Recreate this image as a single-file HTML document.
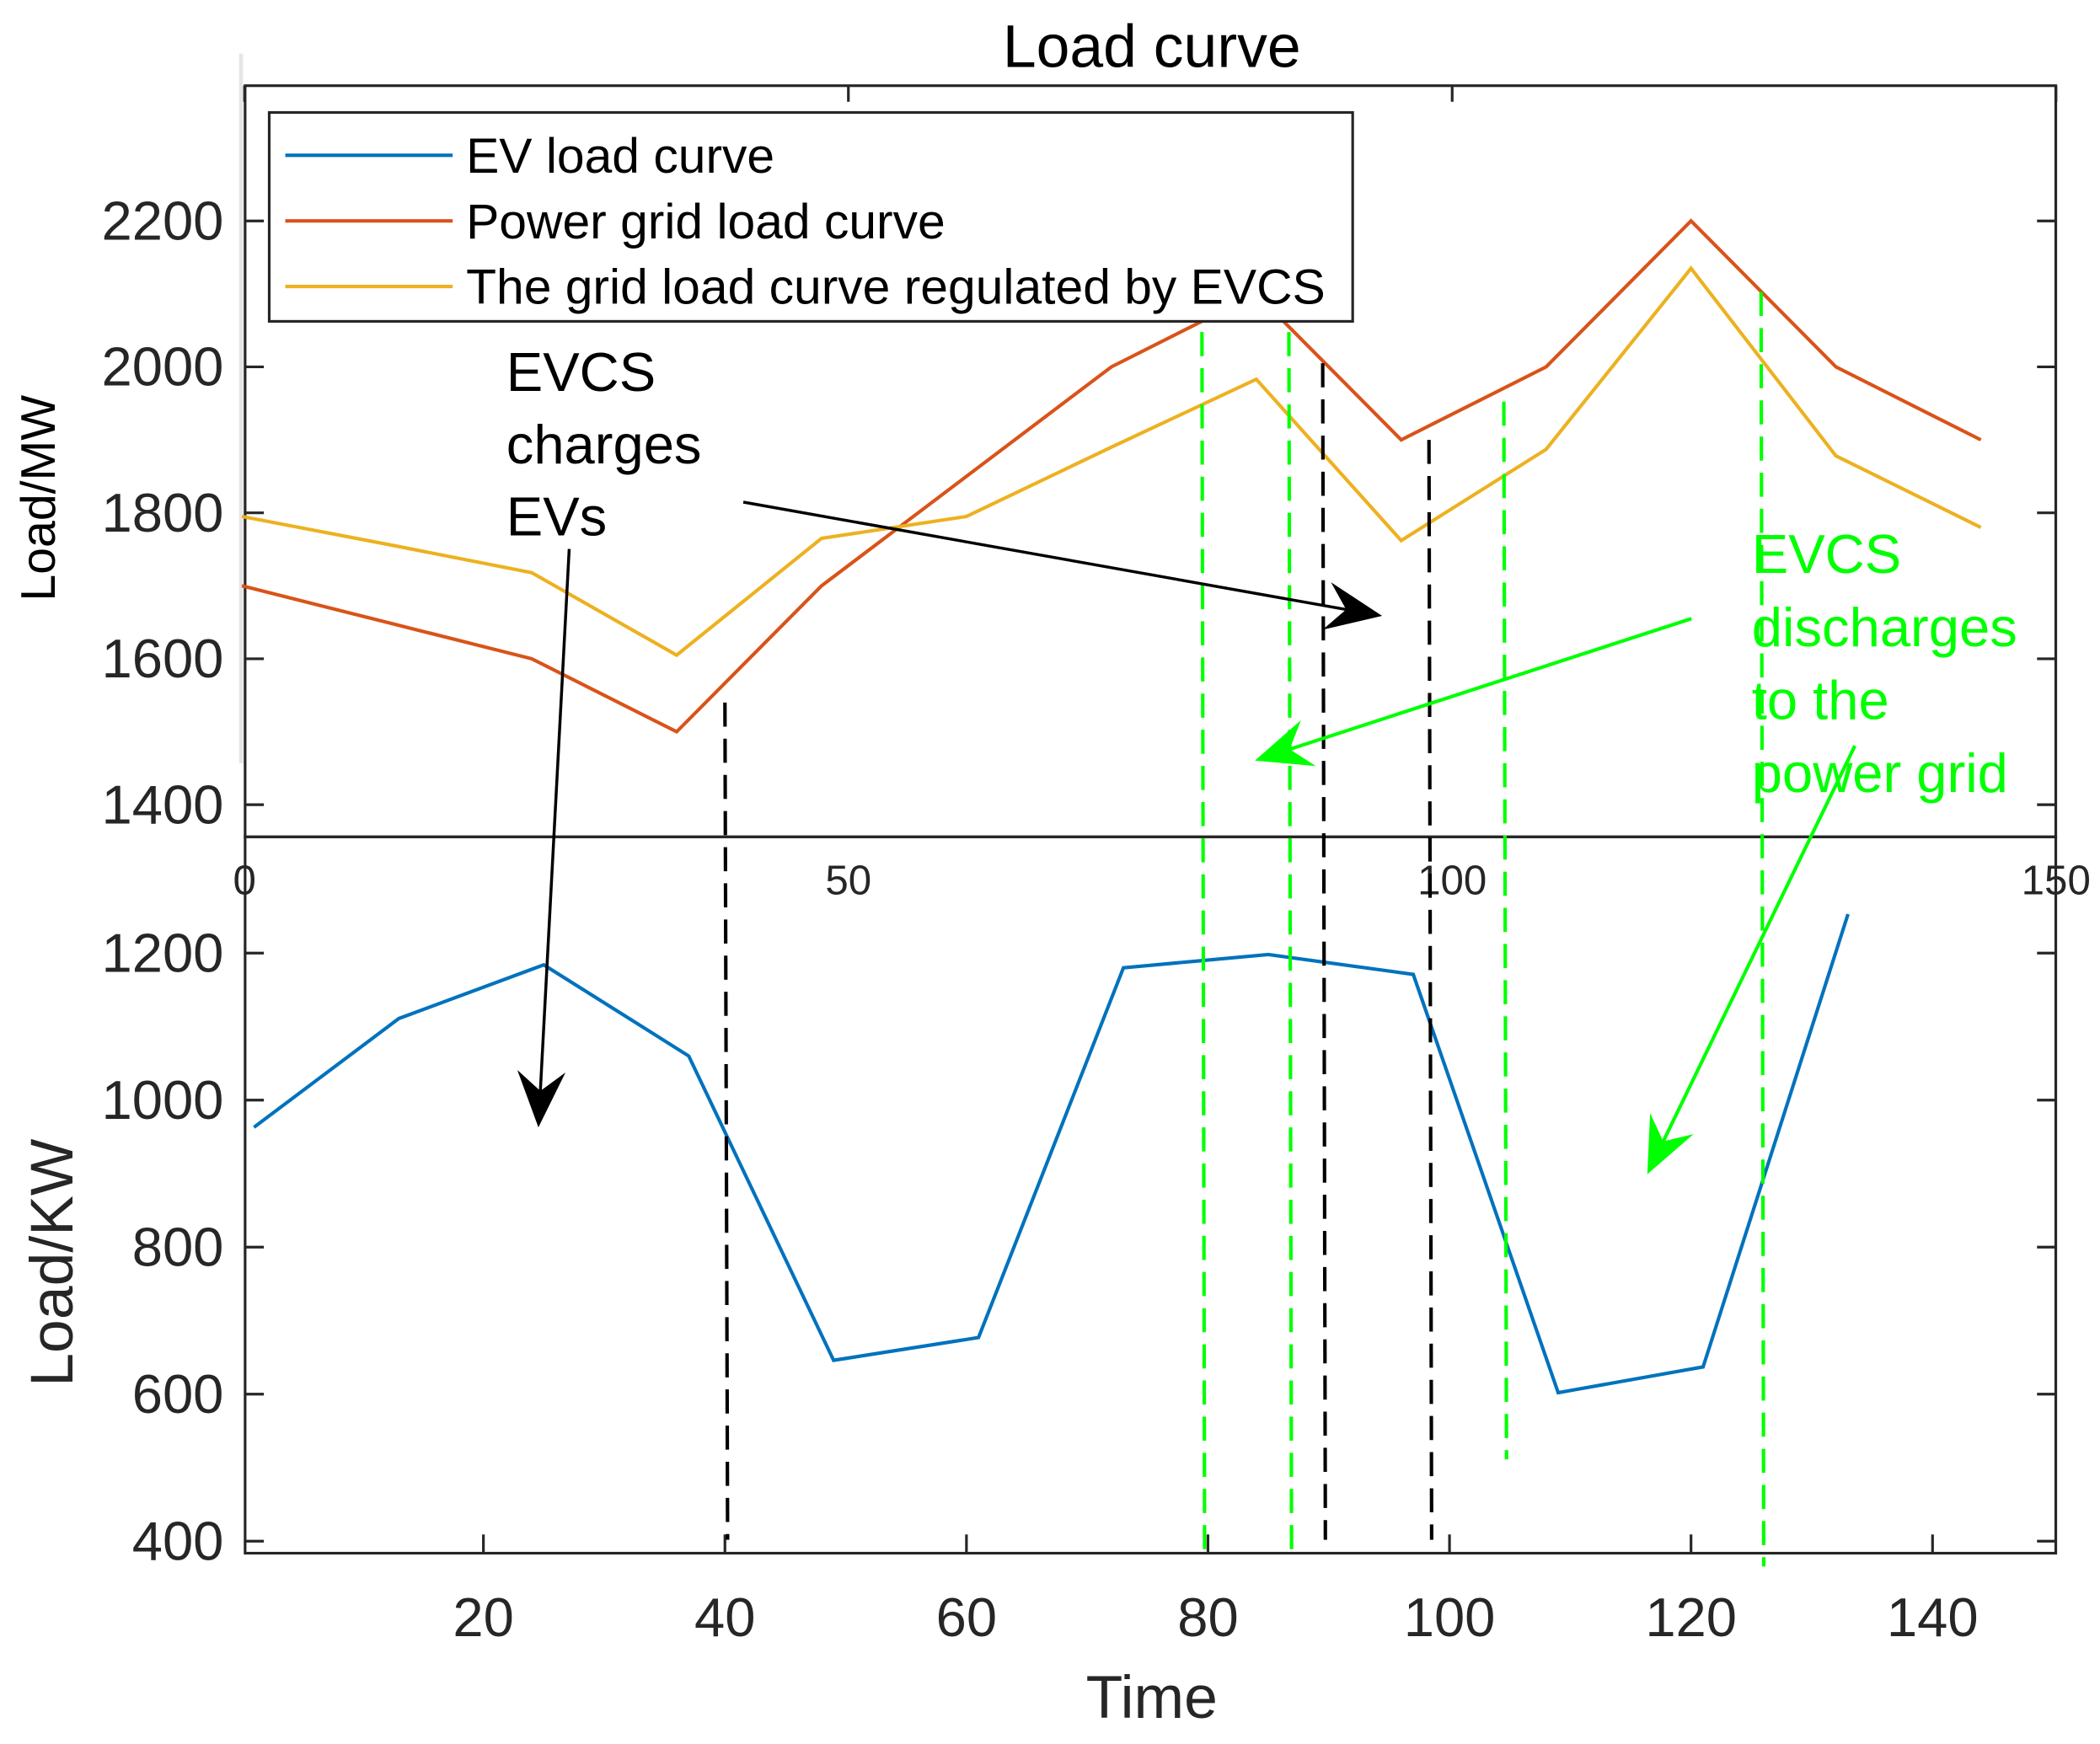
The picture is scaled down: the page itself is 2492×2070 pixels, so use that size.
<!DOCTYPE html>
<html><head><meta charset="utf-8"><style>
html,body{margin:0;padding:0;background:#fff;}
svg{display:block;}
text{font-family:"Liberation Sans",Arial,sans-serif;}
</style></head><body>
<svg id="chart" width="2492" height="2070" viewBox="0 0 1568 1302.5" xmlns="http://www.w3.org/2000/svg">
<rect width="1568" height="1302.5" fill="#fff"/>
<line x1="180" y1="40" x2="180" y2="570" stroke="#e6e6e6" stroke-width="3"/>
<text x="860" y="50" font-size="45" text-anchor="middle" fill="#000">Load curve</text>
<g id="plot"></g>
</svg>
<script>
// ---- data ----
var gridTimes = [0,12,24,36,48,60,72,84,96,108,120,132,144];
var gridLoad = [1700,1650,1600,1500,1700,1850,2000,2100,1900,2000,2200,2000,1900];
var regulatedLoad = [1795,1757,1718,1605,1765,1795,1890,1983,1762,1887,2135,1878,1780];
var evTimes = [1,13,25,37,49,61,73,85,97,109,121,133];
var evLoad = [963,1111,1184,1060,646,677,1180,1198,1171,602,637,1253];
var topYTicks = [1400,1600,1800,2000,2200];
var botYTicks = [400,600,800,1000,1200];
var topXTicks = [0,50,100,150];
var botXTicks = [20,40,60,80,100,120,140];
var blackMarkers = [40,89.5,98.3];
var greenMarkers = [79.5,86.7,104.5,125.8];

// ---- axes ----
var L=183,R=1535,T=64,M=625,B=1160;
function sx(t){return 180.6+t*9.017;}
function syTop(v){return 601-(v-1400)*0.545;}
function syBot(v){return 1151-(v-400)*0.549;}

var NS="http://www.w3.org/2000/svg";
var g=document.getElementById('plot');
function mk(tag,attrs,parent){var e=document.createElementNS(NS,tag);for(var k in attrs)e.setAttribute(k,attrs[k]);(parent||g).appendChild(e);return e;}

var bx=mk('rect',{x:L,y:T,width:R-L,height:M-T,fill:'none',stroke:'#262626','stroke-width':2});


var bx2=mk('rect',{x:L,y:M,width:R-L,height:B-M,fill:'none',stroke:'#262626','stroke-width':2});



topYTicks.forEach(function(v){
  var y=syTop(v);
  mk('line',{x1:L,y1:y,x2:L+14,y2:y,stroke:'#262626','stroke-width':2});
  mk('line',{x1:R,y1:y,x2:R-14,y2:y,stroke:'#262626','stroke-width':2});
  var t=mk('text',{x:L-16,y:y+14,'font-size':41,'text-anchor':'end',fill:'#262626'});
  t.textContent=v;
  
  
});
topXTicks.forEach(function(v){
  var x=sx(v)+2;
  mk('line',{x1:x,y1:T,x2:x,y2:T+12,stroke:'#262626','stroke-width':2});
  var t=mk('text',{x:x,y:668,'font-size':31,'text-anchor':'middle',fill:'#262626'});
  t.textContent=v;
  
  
});
botYTicks.forEach(function(v){
  var y=syBot(v);
  mk('line',{x1:L,y1:y,x2:L+14,y2:y,stroke:'#262626','stroke-width':2});
  mk('line',{x1:R,y1:y,x2:R-14,y2:y,stroke:'#262626','stroke-width':2});
  var t=mk('text',{x:L-16,y:y+14,'font-size':41,'text-anchor':'end',fill:'#262626'});
  t.textContent=v;
  
  
});
botXTicks.forEach(function(v){
  var x=sx(v);
  mk('line',{x1:x,y1:B,x2:x,y2:B-14,stroke:'#262626','stroke-width':2});
  var t=mk('text',{x:x,y:1222,'font-size':41,'text-anchor':'middle',fill:'#262626'});
  t.textContent=v;
  
  
});

var yl1=mk('text',{x:0,y:0,'font-size':36,'text-anchor':'middle',fill:'#000',transform:'translate(41,372) rotate(-90)'});
yl1.textContent='Load/MW';


var yl2=mk('text',{x:0,y:0,'font-size':45,'text-anchor':'middle',fill:'#262626',transform:'translate(54,943) rotate(-90)'});
yl2.textContent='Load/KW';


var xl=mk('text',{x:860,y:1283,'font-size':45,'text-anchor':'middle',fill:'#262626'});
xl.textContent='Time';



function poly(xs,ys,fx,fy,color,name){
  var pts=xs.map(function(x,i){return fx(x)+','+fy(ys[i]);}).join(' ');
  var p=mk('polyline',{points:pts,fill:'none',stroke:color,'stroke-width':2.6});
  
  
}
poly(gridTimes,gridLoad,sx,syTop,'#D95319','power-grid-load-line');
poly(gridTimes,regulatedLoad,sx,syTop,'#EDB120','regulated-load-line');
poly(evTimes,evLoad,sx,syBot,'#0072BD','ev-load-line');

var blackTops=[1540,2005,1900];
blackMarkers.forEach(function(t,i){
  var l=mk('line',{x1:sx(t),y1:syTop(blackTops[i]),x2:sx(t)+2,y2:1150,stroke:'#000','stroke-width':2.6,'stroke-dasharray':'18,9'});
  
  
});
var greenTops=[248,248,300,218];
var greenBots=[1160,1165,1090,1170];
greenMarkers.forEach(function(t,i){
  var l=mk('line',{x1:sx(t),y1:greenTops[i],x2:sx(t)+2,y2:greenBots[i],stroke:'#00FF00','stroke-width':2.6,'stroke-dasharray':'18,9'});
  
  
});

var lg=mk('g',{});


mk('rect',{x:201,y:84,width:809,height:156,fill:'#fff',stroke:'#262626','stroke-width':2},lg);
var legNames=['EV load curve','Power grid load curve','The grid load curve regulated by EVCS'];
var legColors=['#0072BD','#D95319','#EDB120'];
legNames.forEach(function(n,i){
  var y=116+i*49;
  var e=mk('g',{},lg);
  
  
  mk('line',{x1:213,y1:y,x2:338,y2:y,stroke:legColors[i],'stroke-width':2.6},e);
  var t=mk('text',{x:348,y:y+13,'font-size':37,fill:'#000'},e);
  t.textContent=n;
});

function arrow(x1,y1,x2,y2,color,name,w){
  var a=mk('g',{});
  
  
  var ang=Math.atan2(y2-y1,x2-x1),hl=42,hw=18;
  var bxp=x2-hl*Math.cos(ang),byp=y2-hl*Math.sin(ang);
  var ix=x2-hl*0.65*Math.cos(ang),iy=y2-hl*0.65*Math.sin(ang);
  mk('line',{x1:x1,y1:y1,x2:ix,y2:iy,stroke:color,'stroke-width':w},a);
  var px=-Math.sin(ang),py=Math.cos(ang);
  mk('polygon',{points:x2+','+y2+' '+(bxp+px*hw)+','+(byp+py*hw)+' '+ix+','+iy+' '+(bxp-px*hw)+','+(byp-py*hw),fill:color},a);
}
arrow(555,375,1032,460,'#000','black-arrow-right',2.2);
arrow(425,410,402,842,'#000','black-arrow-down',2.2);
arrow(1263,462,937,568,'#00FF00','green-arrow-left',2.6);
arrow(1385,557,1230,877,'#00FF00','green-arrow-down',2.6);

var t1=['EVCS','charges','EVs'];
t1.forEach(function(s,i){
  var t=mk('text',{x:378,y:292+i*54,'font-size':41,fill:'#000'});
  t.textContent=s;
  
  
});
var t2=['EVCS','discharges','to the','power grid'];
t2.forEach(function(s,i){
  var t=mk('text',{x:1308,y:428+i*54.5,'font-size':41,fill:'#00FF00'});
  t.textContent=s;
  
  
});
</script>
</body></html>
